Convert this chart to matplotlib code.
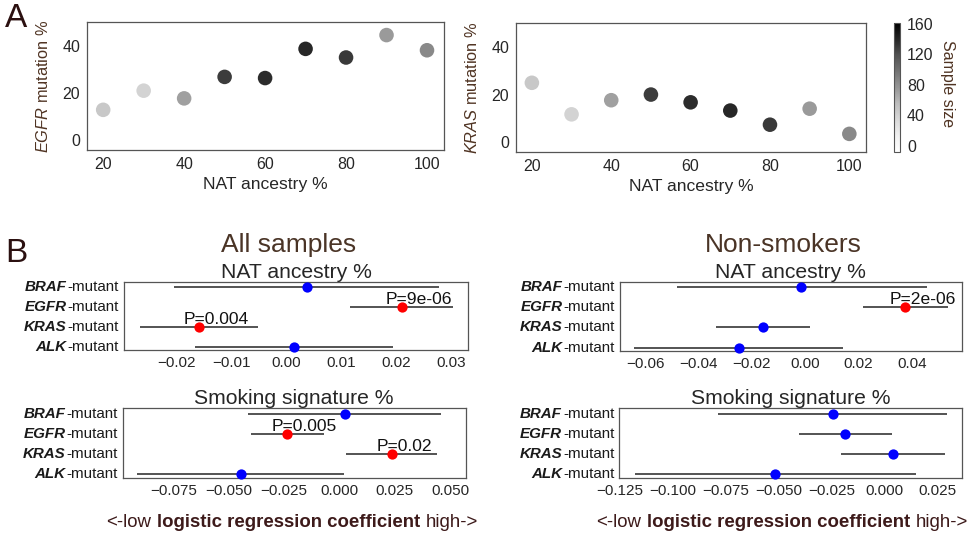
import matplotlib
matplotlib.use('Agg')
import matplotlib.pyplot as plt
import numpy as np
from matplotlib.ticker import FuncFormatter

plt.rcParams['font.family'] = ['Liberation Sans', 'DejaVu Sans']
plt.rcParams['mathtext.fontset'] = 'custom'
plt.rcParams['mathtext.rm'] = 'Liberation Sans'
plt.rcParams['mathtext.it'] = 'Liberation Sans:italic'
plt.rcParams['mathtext.bf'] = 'Liberation Sans:bold'

# ---------------- data ----------------
nat_bins = [20, 30, 40, 50, 60, 70, 80, 90, 100]
egfr_pct = [12.8, 21.0, 17.7, 26.9, 26.4, 38.9, 35.2, 44.8, 38.3]
kras_pct = [25.0, 11.6, 17.6, 20.0, 16.7, 13.2, 7.2, 14.0, 3.3]
sample_size = [47, 39, 71, 129, 136, 139, 130, 74, 84]
top_xticks = [20, 40, 60, 80, 100]
top_yticks = [0, 20, 40]
cbar_ticks = [0, 40, 80, 120, 160]

genes = ['BRAF', 'EGFR', 'KRAS', 'ALK']

all_nat_coef = [0.0037, 0.0210, -0.0159, 0.0013]
all_nat_lo = [-0.0204, 0.0116, -0.0266, -0.0167]
all_nat_hi = [0.0278, 0.0304, -0.0051, 0.0195]
all_nat_p = [None, '9e-06', '0.004', None]

all_smk_coef = [0.0025, -0.0236, 0.0238, -0.0446]
all_smk_lo = [-0.0412, -0.0401, 0.0032, -0.0915]
all_smk_hi = [0.0457, -0.0070, 0.0441, 0.0020]
all_smk_p = [None, '0.005', '0.02', None]

ns_nat_coef = [-0.0016, 0.0374, -0.0160, -0.0249]
ns_nat_lo = [-0.0483, 0.0218, -0.0335, -0.0642]
ns_nat_hi = [0.0456, 0.0534, 0.0018, 0.0143]
ns_nat_p = [None, '2e-06', None, None]

ns_smk_coef = [-0.0244, -0.0186, 0.0039, -0.0517]
ns_smk_lo = [-0.0784, -0.0402, -0.0205, -0.1180]
ns_smk_hi = [0.0296, 0.0034, 0.0285, 0.0147]
ns_smk_p = [None, None, None, None]

all_nat_ticks = [-0.02, -0.01, 0.0, 0.01, 0.02, 0.03]
all_smk_ticks = [-0.075, -0.05, -0.025, 0.0, 0.025, 0.05]
ns_nat_ticks = [-0.06, -0.04, -0.02, 0.0, 0.02, 0.04]
ns_smk_ticks = [-0.125, -0.1, -0.075, -0.05, -0.025, 0.0, 0.025]

W, H = 974, 534
fig = plt.figure(figsize=(W / 100, H / 100), dpi=100)


def box(l, t, r, b):
    return [l / W, 1 - b / H, (r - l) / W, (b - t) / H]


TICKC = '#262626'
BROWN = '#4f3322'
SPINE = '#555555'


def style_spines(ax, lw=0.9):
    for s in ax.spines.values():
        s.set_color(SPINE)
        s.set_linewidth(lw)


# ---------------- top scatter panels ----------------
def scatter_panel(ax, yvals, gene, labx):
    sc = ax.scatter(nat_bins, yvals, c=sample_size, cmap='Greys', vmin=-8, vmax=161,
                    s=110, edgecolors='none', zorder=3)
    ax.set_xlim(16, 104.2)
    ax.set_ylim(-4.4, 50.4)
    ax.set_xticks(top_xticks)
    ax.set_yticks(top_yticks)
    ax.tick_params(length=0, pad=5, labelsize=11.5, labelcolor=TICKC)
    style_spines(ax)
    ax.set_xlabel('NAT ancestry %', fontsize=12.6, color=TICKC, labelpad=4)
    ax.set_ylabel(r'$\it{' + gene + r'}$ mutation %', fontsize=11.8, color=BROWN)
    ax.yaxis.set_label_coords(labx, 0.5)
    return sc


ax1 = fig.add_axes(box(87, 22, 444, 150))
scatter_panel(ax1, egfr_pct, 'EGFR', -0.102)
ax2 = fig.add_axes(box(516, 23, 866, 152))
sc = scatter_panel(ax2, kras_pct, 'KRAS', -0.103)

cax = fig.add_axes(box(894, 23, 900, 152))
cb = fig.colorbar(sc, cax=cax, ticks=cbar_ticks)
cb.outline.set_edgecolor(SPINE)
cb.outline.set_linewidth(0.8)
cax.tick_params(length=0, pad=5, labelsize=11.5, labelcolor=TICKC)
fig.text(948 / W, 1 - 84 / H, 'Sample size', rotation=270, ha='center', va='center',
         fontsize=11.5, color=BROWN)

# ---------------- forest panels ----------------
def fmt_factory(nd):
    def f(v, pos):
        if abs(v) < 1e-12:
            v = 0.0
        return ('{:.%df}' % nd).format(v).replace('-', '\u2212')
    return FuncFormatter(f)


def forest(ax, coef, lo, hi, plab, xlim, ticks, nd, title, tpad):
    for i in range(len(genes)):
        ax.plot([lo[i], hi[i]], [i, i], color='#454545', lw=1.3, solid_capstyle='butt', zorder=2)
        col = '#ff0000' if plab[i] else '#0000ff'
        ax.plot(coef[i], i, 'o', ms=7.4, color=col, mec='none', zorder=3, clip_on=False)
        if plab[i]:
            ax.annotate('P=' + plab[i], xy=(coef[i], i), xytext=(-11.3, 2.2),
                        textcoords='offset points', ha='left', va='baseline',
                        fontsize=12.6, color='#111111', zorder=4)
    ax.set_xlim(*xlim)
    ax.set_ylim(3.17, -0.28)
    ax.set_xticks(ticks)
    ax.xaxis.set_major_formatter(fmt_factory(nd))
    ax.set_yticks(range(len(genes)))
    ax.set_yticklabels([])
    ax.tick_params(length=0, labelsize=11, labelcolor=TICKC)
    ax.tick_params(axis='x', pad=4.5)
    style_spines(ax)
    ax.set_title(title, fontsize=15.2, color=TICKC, pad=tpad)
    for i, g in enumerate(genes):
        t1 = ax.annotate('-mutant', xy=(0, i), xycoords=('axes fraction', 'data'),
                         xytext=(-3.6, 0), textcoords='offset points', ha='right', va='center',
                         fontsize=10.9, color='#1a1a1a')
        ax.annotate(g, xy=(0, 0.5), xycoords=t1, xytext=(-0.6, 0), textcoords='offset points',
                    ha='right', va='center', fontsize=10.9, fontweight='bold',
                    fontstyle='italic', color='#1a1a1a')


a3 = fig.add_axes(box(124, 281.7, 468, 350))
forest(a3, all_nat_coef, all_nat_lo, all_nat_hi, all_nat_p, (-0.0296, 0.0331),
       all_nat_ticks, 2, 'NAT ancestry %', 3)
a4 = fig.add_axes(box(122.7, 408.3, 465.7, 477.7))
forest(a4, all_smk_coef, all_smk_lo, all_smk_hi, all_smk_p, (-0.0978, 0.0570),
       all_smk_ticks, 3, 'Smoking signature %', 3.4)
a5 = fig.add_axes(box(620, 281.7, 961.7, 351))
forest(a5, ns_nat_coef, ns_nat_lo, ns_nat_hi, ns_nat_p, (-0.0695, 0.0587),
       ns_nat_ticks, 2, 'NAT ancestry %', 3)
a6 = fig.add_axes(box(619.3, 408.3, 962.3, 477.7))
forest(a6, ns_smk_coef, ns_smk_lo, ns_smk_hi, ns_smk_p, (-0.1252, 0.0367),
       ns_smk_ticks, 3, 'Smoking signature %', 3.4)

# ---------------- section titles / letters ----------------
NARROW = ['Liberation Sans Narrow', 'Liberation Sans', 'DejaVu Sans']
fig.text(289 / W, 1 - 252 / H, 'All samples', ha='center', va='baseline', fontsize=19,
         color='#4a3426', family=NARROW)
fig.text(783 / W, 1 - 252 / H, 'Non-smokers', ha='center', va='baseline', fontsize=19,
         color='#4a3426', family=NARROW)
fig.text(5 / W, 1 - 27 / H, 'A', ha='left', va='baseline', fontsize=24, color='#2b1010',
         family=NARROW)
fig.text(5 / W, 1 - 262 / H, 'B', ha='left', va='baseline', fontsize=24, color='#2b1010',
         family=NARROW)

# ---------------- bottom xlabels with mixed weight ----------------
LABC = '#3d1a1a'
for cx in (288.3, 778.7):
    mid = fig.text(cx / W, 1 - 526.7 / H, 'logistic regression coefficient', ha='center',
                   va='baseline', fontsize=13.4, fontweight='bold', color=LABC)
    fig.add_artist(matplotlib.text.Annotation(
        '<-low', xy=(0, 0), xycoords=mid, xytext=(-4, 0), textcoords='offset points',
        ha='right', va='bottom', fontsize=13.4, color=LABC, annotation_clip=False))
    fig.add_artist(matplotlib.text.Annotation(
        'high->', xy=(1, 0), xycoords=mid, xytext=(4, 0), textcoords='offset points',
        ha='left', va='bottom', fontsize=13.4, color=LABC, annotation_clip=False))

fig.savefig('out.png', dpi=100)
